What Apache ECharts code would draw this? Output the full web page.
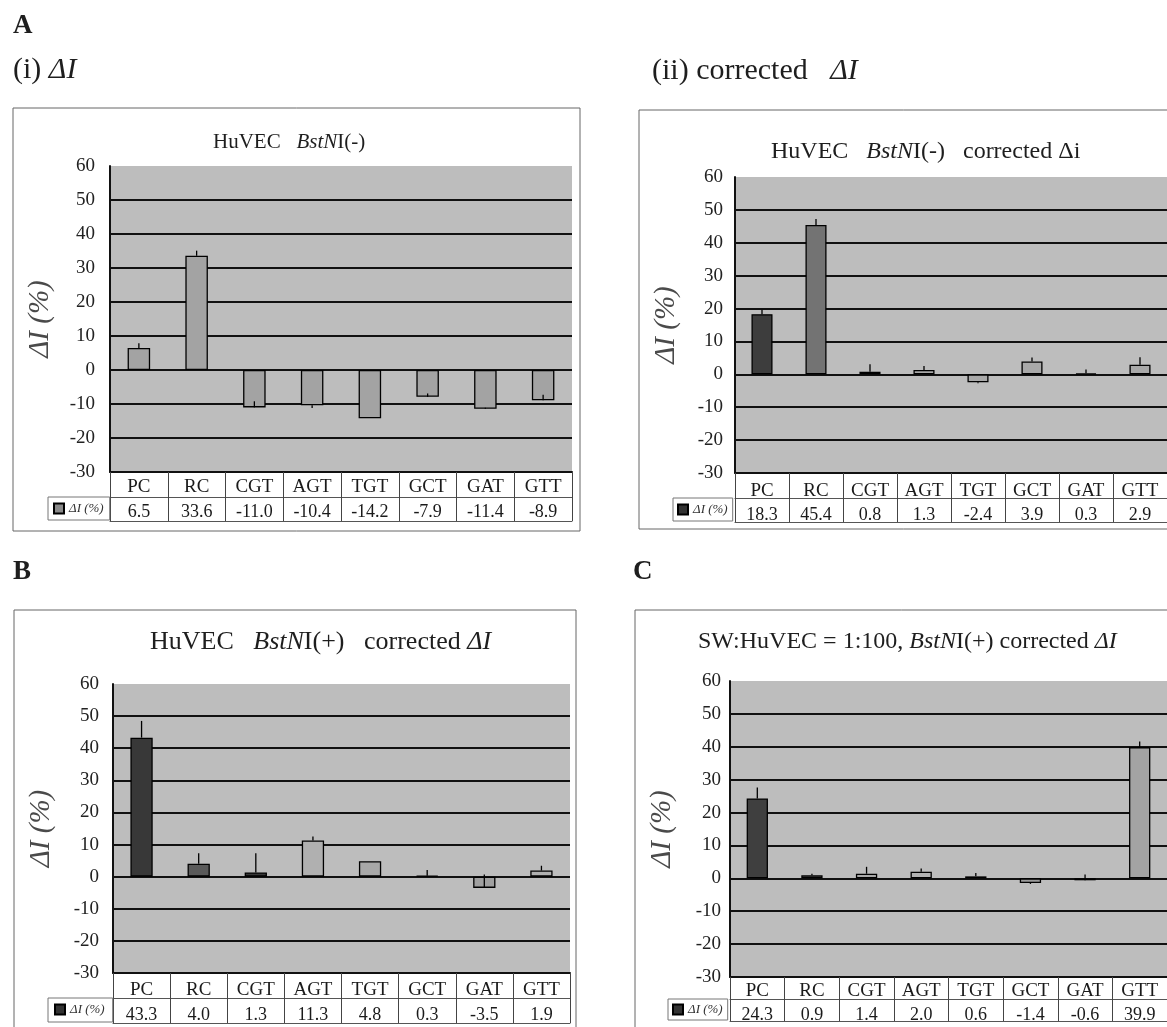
<!DOCTYPE html>
<html><head><meta charset="utf-8">
<script src="https://cdn.jsdelivr.net/npm/echarts@6/dist/echarts.min.js"></script>
<style>html,body{margin:0;padding:0;background:#fff}#c{width:1167px;height:1027px}</style>
</head><body><div id="c"></div>
<script>
// ---------- data ----------
const categories = ['PC','RC','CGT','AGT','TGT','GCT','GAT','GTT'];
const yMin = -30, yMax = 60, yStep = 10;

const valuesA1 = [6.5, 33.6, -11.0, -10.4, -14.2, -7.9, -11.4, -8.9];
const errorsA1 = [1.4, 1.5, 1.8, -0.8, 0, 1.0, 0.3, 1.6];

const valuesA2 = [18.3, 45.4, 0.8, 1.3, -2.4, 3.9, 0.3, 2.9];
const errorsA2 = [1.3, 1.8, 2.3, 1.2, -0.3, 1.2, 1.2, 2.3];

const valuesB = [43.3, 4.0, 1.3, 11.3, 4.8, 0.3, -3.5, 1.9];
const errorsB = [5.2, 3.3, 6.0, 1.2, 0, 1.8, 4.2, 1.5];

const valuesC = [24.3, 0.9, 1.4, 2.0, 0.6, -1.4, -0.6, 39.9];
const errorsC = [3.3, 0.5, 2.1, 1.0, 1.0, -0.3, 1.8, 1.7];

const seriesLabel = 'ΔI (%)';

// ---------- styles ----------
const colorsA1 = ['#a3a3a3','#a3a3a3','#a3a3a3','#a3a3a3','#a3a3a3','#a3a3a3','#a3a3a3','#a3a3a3'];
const colorsA2 = ['#3d3d3d','#737373','#a9a9a9','#a9a9a9','#a9a9a9','#a9a9a9','#a9a9a9','#a9a9a9'];
const colorsB  = ['#383838','#5a5a5a','#383838','#b0b0b0','#a8a8a8','#a8a8a8','#a0a0a0','#b0b0b0'];
const colorsC  = ['#3f3f3f','#8a8a8a','#a9a9a9','#b3b3b3','#9a9a9a','#9a9a9a','#a0a0a0','#a3a3a3'];

const FONT = 'Liberation Serif';

const panels = [
  { name:'a1', values:valuesA1, errors:errorsA1, colors:colorsA1, legendColor:'#8a8a8a',
    grid:{left:110, top:166, width:462, height:306}, rowOffset:25, tableOffset:49,
    catMargin:6, valMargin:6, nameGap:55, labelMargin:15,
    legend:{left:48, top:497, padding:[5,6,5,5]} },
  { name:'a2', values:valuesA2, errors:errorsA2, colors:colorsA2, legendColor:'#333333',
    grid:{left:735, top:177, width:436, height:296}, rowOffset:25, tableOffset:49,
    catMargin:9, valMargin:8, nameGap:54, labelMargin:12,
    legend:{left:673, top:498, padding:[5,5,5,4]} },
  { name:'b', values:valuesB, errors:errorsB, colors:colorsB, legendColor:'#333333',
    grid:{left:113, top:684, width:457, height:289}, rowOffset:25, tableOffset:50,
    catMargin:8, valMargin:8, nameGap:57, labelMargin:14,
    legend:{left:48, top:998, padding:[5,8,6,6]} },
  { name:'c', values:valuesC, errors:errorsC, colors:colorsC, legendColor:'#333333',
    grid:{left:730, top:681, width:441, height:296}, rowOffset:22, tableOffset:44,
    catMargin:5, valMargin:7, nameGap:53, labelMargin:9,
    legend:{left:668, top:999, padding:[4,5,4,4]} }
];

function txt(size, weight) {
  return {fontFamily:FONT, fontSize:size, fontWeight:weight || 'normal', color:'#1e1e1e',
    rich:{i:{fontFamily:FONT, fontStyle:'italic', fontSize:size, fontWeight:weight || 'normal', color:'#1e1e1e'}}};
}

const option = {
  animation:false, backgroundColor:'#ffffff',
  grid:[], xAxis:[], yAxis:[], series:[], legend:[],
  title:[
    {text:'A', left:13, top:13, padding:0, textStyle:txt(27, 'bold')},
    {text:'(i) {i|ΔI}', left:13, top:55, padding:0, textStyle:txt(30)},
    {text:'(ii) corrected   {i|ΔI}', left:652, top:56, padding:0, textStyle:txt(30)},
    {text:'B', left:13, top:559, padding:0, textStyle:txt(27, 'bold')},
    {text:'C', left:633, top:559, padding:0, textStyle:txt(27, 'bold')},
    {text:'HuVEC   {i|BstN}I(-)', left:213, top:132, padding:0, textStyle:txt(21)},
    {text:'HuVEC   {i|BstN}I(-)   corrected Δi', left:771, top:140, padding:0, textStyle:txt(24)},
    {text:'HuVEC   {i|BstN}I(+)   corrected {i|ΔI}', left:150, top:629, padding:0, textStyle:txt(26)},
    {text:'SW:HuVEC = 1:100, {i|BstN}I(+) corrected {i|ΔI}', left:698, top:630, padding:0, textStyle:txt(24)}
  ],
  graphic:[
    {type:'rect', shape:{x:13, y:108, width:567, height:423}, style:{fill:'transparent', stroke:'#666', lineWidth:1}, silent:true, z:-10},
    {type:'rect', shape:{x:639, y:110, width:545, height:419}, style:{fill:'transparent', stroke:'#666', lineWidth:1}, silent:true, z:-10},
    {type:'rect', shape:{x:14, y:610, width:562, height:440}, style:{fill:'transparent', stroke:'#666', lineWidth:1}, silent:true, z:-10},
    {type:'rect', shape:{x:635, y:610, width:545, height:440}, style:{fill:'transparent', stroke:'#666', lineWidth:1}, silent:true, z:-10}
  ]
};

panels.forEach((p, k) => {
  option.grid.push(Object.assign({show:true, backgroundColor:'#bdbdbd', borderWidth:0}, p.grid));
  // category row of the data table
  option.xAxis.push({type:'category', gridIndex:k, data:categories, position:'bottom',
    axisLine:{onZero:false, lineStyle:{color:'#111', width:2}},
    axisTick:{show:true, alignWithLabel:false, interval:0, length:p.tableOffset, lineStyle:{color:'#444', width:1}},
    axisLabel:{interval:0, margin:p.catMargin, fontFamily:FONT, fontSize:19, lineHeight:19, color:'#1a1a1a'},
    splitLine:{show:false}});
  // value row of the data table
  option.xAxis.push({type:'category', gridIndex:k, data:p.values.map(v => v.toFixed(1)), position:'bottom', offset:p.rowOffset,
    axisLine:{onZero:false, lineStyle:{color:'#555', width:1}},
    axisTick:{show:false},
    axisLabel:{interval:0, margin:p.valMargin, fontFamily:FONT, fontSize:18, lineHeight:18, color:'#1a1a1a'},
    splitLine:{show:false}});
  // bottom border of the table
  option.xAxis.push({type:'category', gridIndex:k, data:categories, position:'bottom', offset:p.tableOffset,
    axisLine:{onZero:false, lineStyle:{color:'#555', width:1}},
    axisTick:{show:false}, axisLabel:{show:false}, splitLine:{show:false}});
  option.yAxis.push({type:'value', gridIndex:k, min:yMin, max:yMax, interval:yStep,
    name:seriesLabel, nameLocation:'middle', nameRotate:90, nameGap:p.nameGap,
    nameTextStyle:{fontFamily:FONT, fontStyle:'italic', fontSize:29, color:'#4a4a4a'},
    axisLine:{show:true, lineStyle:{color:'#111', width:2}},
    axisTick:{show:false},
    axisLabel:{margin:p.labelMargin, fontFamily:FONT, fontSize:19, color:'#222', verticalAlign:'middle', padding:[14,0,0,0]},
    splitLine:{show:true, showMaxLine:false, lineStyle:{color:'#111', width:1.8}}});
  option.series.push({type:'bar', name:p.name, xAxisIndex:3*k, yAxisIndex:k, barWidth:'39%',
    itemStyle:{color:p.legendColor, borderColor:'#000', borderWidth:1.3},
    data:p.values.map((v, i) => ({value:v, itemStyle:{color:p.colors[i], borderColor:'#000', borderWidth:1.3}}))});
  option.series.push({type:'custom', name:p.name + '_err', xAxisIndex:3*k, yAxisIndex:k, z:5,
    data:p.values.map((v, i) => [i, v, p.errors[i]]),
    renderItem:(params, api) => {
      const a = api.coord([api.value(0), api.value(1)]);
      const b = api.coord([api.value(0), api.value(1) + api.value(2)]);
      return {type:'line', shape:{x1:a[0], y1:a[1], x2:b[0], y2:b[1]}, style:{stroke:'#000', lineWidth:1.3}};
    }});
  option.legend.push({data:[p.name], left:p.legend.left, top:p.legend.top, padding:p.legend.padding,
    orient:'horizontal', icon:'rect', itemWidth:10, itemHeight:10, itemGap:0, selectedMode:false,
    formatter:() => seriesLabel, borderColor:'#777', borderWidth:1, backgroundColor:'#fff',
    textStyle:{fontFamily:FONT, fontStyle:'italic', fontSize:13, color:'#333'}});
});

const chart = echarts.init(document.getElementById('c'));
chart.setOption(option);
</script>
</body></html>
